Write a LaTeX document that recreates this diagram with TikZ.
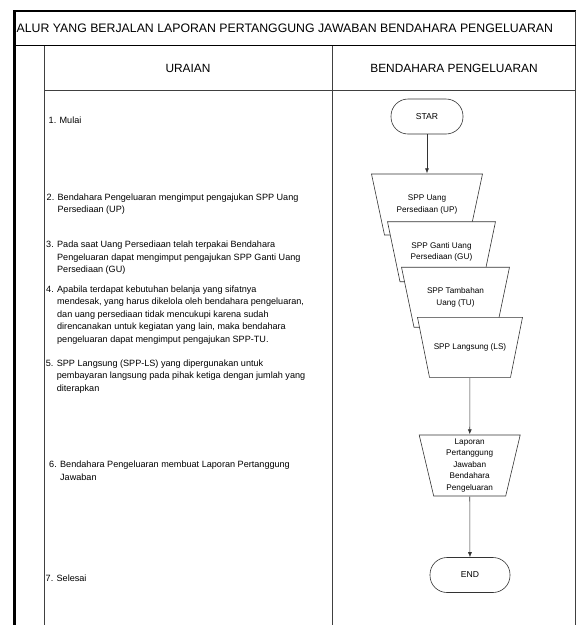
\documentclass[tikz,border=0pt]{standalone}
\usepackage{fontspec}
\setmainfont{Liberation Sans}
\usetikzlibrary{arrows.meta}

\begin{document}
\begin{tikzpicture}[x=1pt, y=-1pt,
  frame/.style={line width=2.2pt, black},
  grid/.style={line width=0.8pt, black!75},
  term/.style={draw=black!80, line width=0.6pt, rounded corners=17pt, fill=white,
    font=\fontsize{8.6}{10}\selectfont},
  doc/.style n args={3}{minimum width=#1, minimum height=#2, inner sep=0pt,
    align=center, font=\fontsize{8.2}{11.5}\selectfont,
    path picture={
      \filldraw[draw=black!80, line width=0.6pt, fill=white]
        ([shift={(0.5pt,-0.5pt)}]path picture bounding box.north west) --
        ([shift={(-0.5pt,-0.5pt)}]path picture bounding box.north east) --
        ([shift={(-#3,0.5pt)}]path picture bounding box.south east) --
        ([shift={(#3,0.5pt)}]path picture bounding box.south west) -- cycle;
    }},
  item/.style={anchor=west, align=left, inner sep=0pt,
    font=\fontsize{9.1}{12.5}\selectfont},
  flow/.style={draw=black!80, line width=0.6pt, -{Latex[length=5pt,width=4pt]}}]
  \useasboundingbox (0,0) rectangle (576,625);

  % table frame
  \draw[frame] (14.5,625) -- (14.5,11) -- (575.5,11);
  \draw[grid] (575.5,11) -- (575.5,625);
  \draw[line width=1.2pt] (14.5,45.7) -- (575.5,45.7);
  \draw[grid] (44.3,90) -- (575.5,90);
  \draw[grid] (44.3,45.7) -- (44.3,625);
  \draw[grid] (332.3,45.7) -- (332.3,625);

  % headings
  \node[anchor=west, inner sep=0pt, font=\fontsize{12.3}{13}\selectfont] (title) at (16.5,28.5)
    {ALUR YANG BERJALAN LAPORAN PERTANGGUNG JAWABAN BENDAHARA PENGELUARAN};
  \node[font=\fontsize{11.9}{13}\selectfont] (uraian) at (188,68) {URAIAN};
  \node[font=\fontsize{11.9}{13}\selectfont] (bendahara) at (454,68) {BENDAHARA PENGELUARAN};

  % uraian
  \node[item] (u1) at (48.5,120) {1. Mulai};
  \node[item] (u2) at (46.5,204) {2. Bendahara Pengeluaran mengimput pengajukan SPP Uang\\
    \hphantom{2. }Persediaan (UP)};
  \node[item] (u3) at (46,257.8) {3. Pada saat Uang Persediaan telah terpakai Bendahara\\
    \hphantom{3. }Pengeluaran dapat mengimput pengajukan SPP Ganti Uang\\
    \hphantom{3. }Persediaan (GU)};
  \node[item] (u4) at (46,314.7) {4. Apabila terdapat kebutuhan belanja yang sifatnya\\
    \hphantom{4. }mendesak, yang harus dikelola oleh bendahara pengeluaran,\\
    \hphantom{4. }dan uang persediaan tidak mencukupi karena sudah\\
    \hphantom{4. }direncanakan untuk kegiatan yang lain, maka bendahara\\
    \hphantom{4. }pengeluaran dapat mengimput pengajukan SPP-TU.};
  \node[item] (u5) at (45.7,376.6) {5. SPP Langsung (SPP-LS) yang dipergunakan untuk\\
    \hphantom{5. }pembayaran langsung pada pihak ketiga dengan jumlah yang\\
    \hphantom{5. }diterapkan};
  \node[item] (u6) at (49,470.5) {6. Bendahara Pengeluaran membuat Laporan Pertanggung\\
    \hphantom{6. }Jawaban};
  \node[item] (u7) at (45.5,578) {7. Selesai};

  % flow
  \node[term, minimum width=72pt, minimum height=35pt] (star) at (427,116.5) {STAR};
  \node[doc={112pt}{62pt}{13.5pt}] (up) at (427,204.5) {SPP Uang\\Persediaan (UP)};
  \node[doc={109pt}{61pt}{13pt}] (gu) at (441.5,251.7) {SPP Ganti Uang\\Persediaan (GU)};
  \node[doc={109pt}{61pt}{13pt}] (tu) at (455.5,297.2) {SPP Tambahan\\Uang (TU)};
  \node[doc={106pt}{61pt}{12.5pt}] (ls) at (470,347.3) {SPP Langsung (LS)};
  \node[doc={102pt}{62pt}{15pt}] (lpj) at (469.7,465.5)
    {Laporan\\Pertanggung\\Jawaban\\Bendahara\\Pengeluaran};
  \node[term, minimum width=80pt, minimum height=35pt] (end) at (470,575) {END};

  \draw[flow] (star) -- (up);
  \draw[flow] (ls) -- (lpj);
  \draw[flow] (lpj) -- (end);
\end{tikzpicture}
\end{document}
